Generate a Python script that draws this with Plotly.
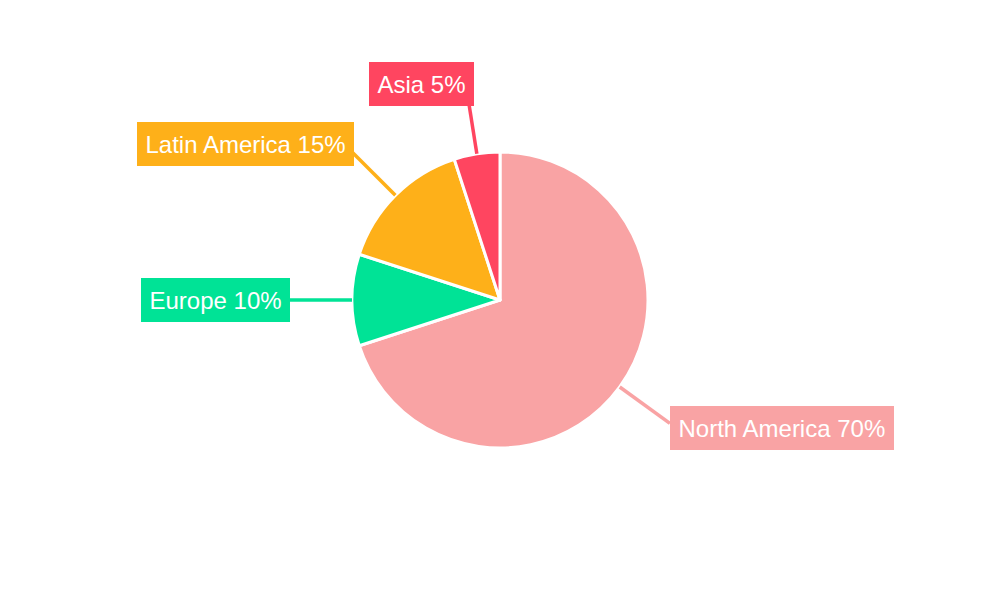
import math
import plotly.graph_objects as go

# ---- data ----
regions = ["North America", "Europe", "Latin America", "Asia"]
shares = [70, 10, 15, 5]
colors = ["#F9A3A4", "#00E396", "#FEB019", "#FF4560"]

# ---- layout constants (pixels, figure frame; page adds 8px body margin) ----
W, H = 1000, 600
OFF = 8
CX, CY, R = 500 - OFF, 300 - OFF, 148
R_END = 210
# label anchoring: (xanchor, yanchor, dx, dy) relative to the leader line end
label_style = [("left", "middle", 0, 4.5), ("right", "middle", 0, 0),
               ("right", "middle", 2.5, -8), ("right", "middle", 7, -9)]

fig = go.Figure(go.Pie(
    labels=regions, values=shares, sort=False, direction="clockwise", rotation=0,
    marker=dict(colors=colors, line=dict(color="white", width=3)),
    textinfo="none", hoverinfo="label+percent", showlegend=False,
    domain=dict(x=[0, 2 * CX / W], y=[(H - CY - R) / H, (H - CY + R) / H]),
))

def px(x, y):
    return x / W, 1 - y / H

total = sum(shares)
cum = 0
shapes, annotations = [], []
for name, v, c, (xa, ya, dx, dy) in zip(regions, shares, colors, label_style):
    mid = (cum + v / 2) / total * 2 * math.pi
    cum += v
    sx, sy = math.sin(mid), -math.cos(mid)
    x0, y0 = CX + R * sx, CY + R * sy
    x1, y1 = CX + R_END * sx, CY + R_END * sy
    a0, b0 = px(x0, y0)
    a1, b1 = px(x1, y1)
    shapes.append(dict(type="line", xref="paper", yref="paper", x0=a0, y0=b0, x1=a1, y1=b1,
                       line=dict(color=c, width=3.5), layer="above"))
    lx, ly = px(x1 + dx, y1 + dy)
    annotations.append(dict(
        x=lx, y=ly, xref="paper", yref="paper", xanchor=xa, yanchor=ya,
        text=f"{name} {round(v / total * 100)}%", showarrow=False,
        font=dict(family="Liberation Sans, Arial, sans-serif", size=24, color="white"),
        bgcolor=c, borderpad=8.5, borderwidth=0,
    ))

fig.update_layout(
    width=W, height=H, margin=dict(l=0, r=0, t=0, b=0),
    paper_bgcolor="white", plot_bgcolor="white",
    shapes=shapes, annotations=annotations,
)
fig.write_html("out.html")
